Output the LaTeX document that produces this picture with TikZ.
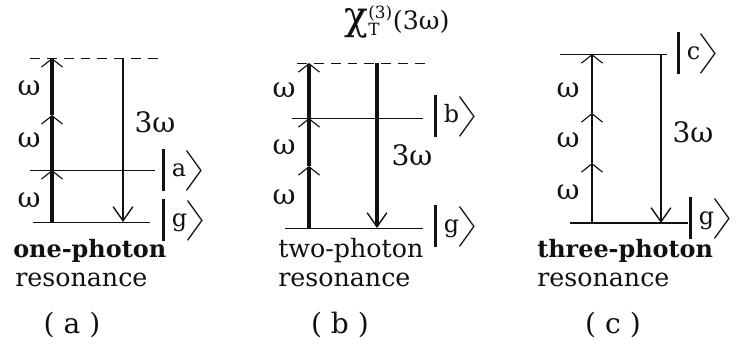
\documentclass[tikz,border=0pt]{standalone}
\usepackage{fontspec}
\setmainfont{DejaVu Serif}
\usepackage{tikz}
\usetikzlibrary{arrows.meta}
\definecolor{ink}{HTML}{111111}
\newcommand{\ketlbl}[1]{\raisebox{-10.6pt}{\rule{1.8pt}{30pt}}\kern5pt#1\kern-2pt%
  \raisebox{-10.6pt}{\resizebox*{16pt}{30pt}{\raisebox{\depth}{$\Bigg\rangle$}}}}
\tikzset{
  lvl/.style      = {draw=ink, line width=0.7pt},
  lvlthick/.style = {draw=ink, line width=1.4pt},
  virt/.style     = {draw=ink, line width=0.7pt, dash pattern=on 7pt off 5pt},
  pump/.style     = {draw=ink, -{Straight Barb[length=6pt,width=15pt,line width=0.8pt]}},
  emit/.style     = {draw=ink, -{Straight Barb[length=10pt,width=14pt,line width=1pt]}},
  thickline/.style= {line width=2.2pt},
  thinline/.style = {line width=1.1pt},
  wlbl/.style     = {font=\fontsize{20}{22}\selectfont, text=ink, inner sep=0pt},
  ket/.style      = {font=\fontsize{17}{18}\selectfont, text=ink, anchor=west, inner sep=0pt},
  captext/.style  = {font=\fontsize{18}{20}\selectfont, text=ink, anchor=base west, inner sep=0pt},
  capbold/.style  = {captext, font=\fontsize{17}{20}\bfseries\selectfont},
  tag/.style      = {font=\fontsize{20}{22}\selectfont, text=ink, inner sep=0pt},
}

\begin{document}
\begin{tikzpicture}[x=0.025cm, y=-0.025cm]
  \useasboundingbox (0,0) rectangle (739,352);

  % (a) one-photon resonance
  \coordinate (avl) at (30,58);  \coordinate (avr) at (160,58);
  \coordinate (aal) at (30,170); \coordinate (aar) at (155,170);
  \coordinate (agl) at (33,222); \coordinate (agr) at (150,222);
  \draw[virt] (avl) -- (avr);
  \draw[lvl] (aal) -- (aar);
  \draw[lvl] (agl) -- (agr);
  \coordinate (ap0) at (52,222); \coordinate (ap1) at (52,170);
  \coordinate (ap2) at (52,115); \coordinate (ap3) at (52,58);
  \foreach \s/\e in {ap0/ap1, ap1/ap2, ap2/ap3}
    \draw[pump, thickline] (\s) -- (\e);
  \coordinate (ae0) at (123,58); \coordinate (ae1) at (123,222);
  \draw[emit, thinline] (ae0) -- (ae1);
  \node[wlbl] (aw1) at (29,200) {ω};
  \node[wlbl] (aw2) at (29,140) {ω};
  \node[wlbl] (aw3) at (29,88) {ω};
  \node[wlbl] (a3w) at (155,122) {3ω};
  \node[ket] (keta) at (162,170) {\ketlbl{a}};
  \node[ket] (ketag) at (162,220) {\ketlbl{g}};
  \node[capbold] (acap1) at (13,258) {one-photon};
  \node[captext] (acap2) at (15,287) {resonance};
  \node[tag] (atag) at (72,325) {( a )};

  % (b) two-photon resonance
  \node[font=\fontsize{18}{20}\selectfont, text=ink, inner sep=0pt] (chi) at (397,22)
    {{\fontsize{28}{28}\selectfont χ}$^{\mbox{\fontsize{12}{12}\selectfont(3)}}_{\mbox{\fontsize{12}{12}\selectfont T}}$(3ω)};
  \coordinate (bvl) at (297,63);  \coordinate (bvr) at (425,63);
  \coordinate (bbl) at (292,118); \coordinate (bbr) at (423,118);
  \coordinate (bgl) at (285,228); \coordinate (bgr) at (423,228);
  \draw[virt] (bvl) -- (bvr);
  \draw[lvl] (bbl) -- (bbr);
  \draw[lvl] (bgl) -- (bgr);
  \coordinate (bp0) at (309,228); \coordinate (bp1) at (309,166);
  \coordinate (bp2) at (309,118); \coordinate (bp3) at (309,63);
  \foreach \s/\e in {bp0/bp1, bp1/bp2, bp2/bp3}
    \draw[pump, thickline] (\s) -- (\e);
  \coordinate (be0) at (377,63); \coordinate (be1) at (377,228);
  \draw[emit, thickline] (be0) -- (be1);
  \node[wlbl] (bw1) at (284,197) {ω};
  \node[wlbl] (bw2) at (284,147) {ω};
  \node[wlbl] (bw3) at (284,90) {ω};
  \node[wlbl] (b3w) at (412,155) {3ω};
  \node[ket] (ketb) at (434,116) {\ketlbl{b}};
  \node[ket] (ketbg) at (434,226) {\ketlbl{g}};
  \node[captext] (bcap1) at (278,258) {two-photon};
  \node[captext] (bcap2) at (278,287) {resonance};
  \node[tag] (btag) at (340,325) {( b )};

  % (c) three-photon resonance
  \coordinate (ccl) at (560,54);  \coordinate (ccr) at (667,54);
  \coordinate (cgl) at (570,223); \coordinate (cgr) at (688,223);
  \draw[lvl] (ccl) -- (ccr);
  \draw[lvlthick] (cgl) -- (cgr);
  \coordinate (cp0) at (592,223); \coordinate (cp1) at (592,163);
  \coordinate (cp2) at (592,113); \coordinate (cp3) at (592,54);
  \foreach \s/\e in {cp0/cp1, cp1/cp2, cp2/cp3}
    \draw[pump, thinline] (\s) -- (\e);
  \coordinate (ce0) at (661,54); \coordinate (ce1) at (661,223);
  \draw[emit, thinline] (ce0) -- (ce1);
  \node[wlbl] (cw1) at (568,192) {ω};
  \node[wlbl] (cw2) at (568,140) {ω};
  \node[wlbl] (cw3) at (568,90) {ω};
  \node[wlbl] (c3w) at (693,132) {3ω};
  \node[ket] (ketc) at (677,53) {\ketlbl{c}};
  \node[ket] (ketcg) at (689,218) {\ketlbl{g}};
  \node[capbold] (ccap1) at (537,258) {three-photon};
  \node[captext] (ccap2) at (537,287) {resonance};
  \node[tag] (ctag) at (613,325) {( c )};
\end{tikzpicture}
\end{document}
